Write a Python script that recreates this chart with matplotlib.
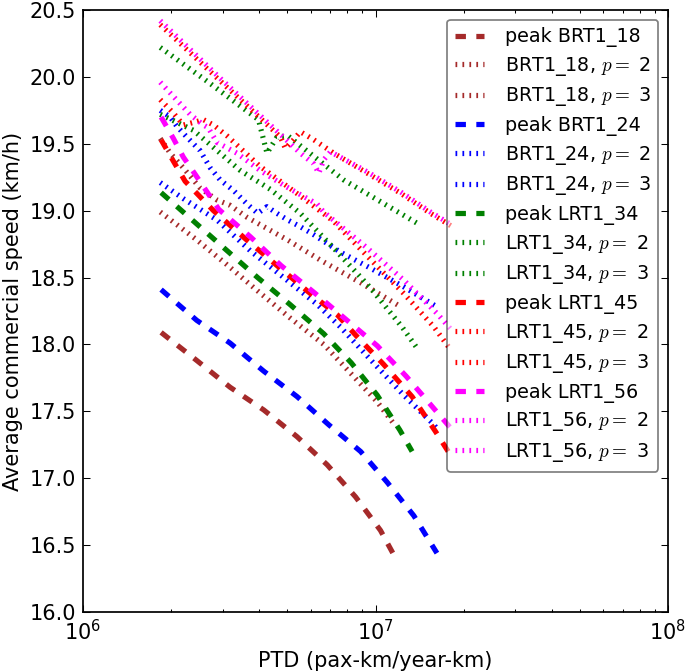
import matplotlib
matplotlib.use("Agg")
import matplotlib.pyplot as plt

plt.rcParams['font.family'] = ['DejaVu Sans']
plt.rcParams['mathtext.fontset'] = 'cm'
plt.rcParams['lines.scale_dashes'] = False

# ---- data (PTD in pax-km/year-km, speed in km/h) ----
peak_brt18_x = [1.849e6, 2.449e6, 3.184e6, 4.150e6, 5.395e6, 6.839e6, 8.551e6, 10.40e6, 11.53e6]
peak_brt18_y = [18.09, 17.88, 17.68, 17.51, 17.31, 17.10, 16.86, 16.61, 16.43]

brt18_p2_x = [1.837e6, 1.986e6, 2.203e6, 2.512e6, 2.871e6, 3.184e6, 3.639e6, 5.012e6, 6.486e6, 8.913e6, 12.02e6]
brt18_p2_y = [19.54, 19.43, 19.32, 19.17, 19.08, 19.04, 18.95, 18.78, 18.63, 18.46, 18.29]

brt18_p3_x = [1.837e6, 2.421e6, 3.090e6, 3.954e6, 5.093e6, 6.653e6, 8.260e6, 10.14e6, 11.43e6]
brt18_p3_y = [18.99, 18.79, 18.60, 18.40, 18.20, 18.00, 17.78, 17.57, 17.42]

peak_brt24_x = [1.849e6, 2.449e6, 3.184e6, 4.150e6, 5.395e6, 6.918e6, 8.892e6, 10.96e6, 13.52e6, 16.22e6]
peak_brt24_y = [18.41, 18.18, 18.01, 17.80, 17.61, 17.40, 17.20, 16.97, 16.72, 16.44]

brt24_p2_x = [1.837e6, 1.986e6, 2.094e6, 2.265e6, 2.512e6, 2.723e6, 2.944e6, 3.273e6, 3.639e6,
              3.954e6, 4.256e6, 4.603e6, 5.012e6, 5.534e6, 6.152e6, 7.586e6, 9.616e6, 12.50e6, 16.26e6]
brt24_p2_y = [19.75, 19.70, 19.63, 19.55, 19.45, 19.32, 19.23, 19.15, 19.05,
              18.98, 19.03, 18.98, 18.93, 18.88, 18.82, 18.69, 18.57, 18.43, 18.28]

brt24_p3_x = [1.837e6, 2.203e6, 2.871e6, 3.733e6, 4.853e6, 6.310e6, 7.586e6, 9.863e6, 12.50e6, 15.85e6, 16.22e6]
brt24_p3_y = [19.21, 19.09, 18.93, 18.70, 18.50, 18.30, 18.13, 17.86, 17.62, 17.40, 17.37]

peak_lrt34_x = [1.849e6, 2.421e6, 3.090e6, 3.954e6, 5.093e6, 6.653e6, 8.260e6, 10.14e6, 12.11e6, 13.34e6]
peak_lrt34_y = [19.135, 18.91, 18.706, 18.50, 18.30, 18.08, 17.863, 17.62, 17.36, 17.20]

lrt34_p2_x = [1.837e6, 2.723e6, 3.981e6, 4.256e6, 4.603e6, 5.012e6, 7.780e6, 13.90e6]
lrt34_p2_y = [20.22, 19.95, 19.68, 19.43, 19.55, 19.56, 19.23, 18.905]

lrt34_p3_x = [1.837e6, 2.388e6, 3.451e6, 4.365e6, 5.534e6, 7.194e6, 9.550e6, 12.33e6, 13.90e6]
lrt34_p3_y = [19.72, 19.60, 19.30, 19.16, 18.98, 18.72, 18.43, 18.13, 17.97]

peak_lrt45_x = [1.849e6, 2.037e6, 2.234e6, 2.793e6, 3.589e6, 4.603e6, 5.916e6, 7.413e6, 8.551e6,
                10.67e6, 13.34e6, 16.03e6, 18.32e6]
peak_lrt45_y = [19.53, 19.37, 19.22, 19.00, 18.79, 18.59, 18.39, 18.22, 18.07,
                17.85, 17.61, 17.35, 17.15]

lrt45_p2_x = [1.837e6, 2.944e6, 3.733e6, 4.732e6, 4.920e6, 5.248e6, 5.534e6, 6.152e6, 7.194e6,
              9.376e6, 12.19e6, 15.42e6, 18.32e6]
lrt45_p2_y = [20.39, 19.97, 19.76, 19.55, 19.465, 19.53, 19.59, 19.53, 19.43,
              19.28, 19.13, 18.98, 18.88]

lrt45_p3_x = [1.837e6, 2.037e6, 2.203e6, 2.388e6, 2.582e6, 2.793e6, 3.105e6, 4.036e6, 5.534e6,
              7.194e6, 9.376e6, 12.50e6, 15.85e6, 18.07e6]
lrt45_p3_y = [19.83, 19.73, 19.64, 19.66, 19.68, 19.64, 19.56, 19.33, 19.11,
              18.92, 18.66, 18.38, 18.13, 17.96]

peak_lrt56_x = [1.849e6, 2.037e6, 2.203e6, 2.421e6, 2.911e6, 3.733e6, 4.753e6, 6.152e6, 7.998e6,
                10.14e6, 12.76e6, 15.85e6, 18.32e6]
peak_lrt56_y = [19.70, 19.54, 19.40, 19.27, 19.01, 18.805, 18.59, 18.39, 18.18,
                17.99, 17.76, 17.52, 17.36]

lrt56_p2_x = [1.837e6, 2.944e6, 3.733e6, 4.732e6, 5.534e6, 6.152e6, 6.397e6, 6.653e6, 7.015e6,
              9.376e6, 12.19e6, 15.42e6, 18.32e6]
lrt56_p2_y = [20.42, 19.99, 19.78, 19.57, 19.43, 19.35, 19.28, 19.38, 19.44,
              19.29, 19.14, 18.99, 18.89]

lrt56_p3_x = [1.837e6, 1.986e6, 2.323e6, 2.582e6, 2.679e6, 2.871e6, 3.357e6, 4.036e6, 4.853e6,
              6.310e6, 6.653e6, 9.376e6, 12.50e6, 16.26e6, 18.32e6]
lrt56_p3_y = [19.96, 19.88, 19.72, 19.64, 19.62, 19.51, 19.43, 19.30, 19.19,
              19.05, 18.99, 18.72, 18.48, 18.23, 18.10]

systems = ["BRT1_18", "BRT1_24", "LRT1_34", "LRT1_45", "LRT1_56"]
colors = ["brown", "blue", "green", "red", "magenta"]
series = [
    (peak_brt18_x, peak_brt18_y, brt18_p2_x, brt18_p2_y, brt18_p3_x, brt18_p3_y),
    (peak_brt24_x, peak_brt24_y, brt24_p2_x, brt24_p2_y, brt24_p3_x, brt24_p3_y),
    (peak_lrt34_x, peak_lrt34_y, lrt34_p2_x, lrt34_p2_y, lrt34_p3_x, lrt34_p3_y),
    (peak_lrt45_x, peak_lrt45_y, lrt45_p2_x, lrt45_p2_y, lrt45_p3_x, lrt45_p3_y),
    (peak_lrt56_x, peak_lrt56_y, lrt56_p2_x, lrt56_p2_y, lrt56_p3_x, lrt56_p3_y),
]
p_values = [2, 3]

DPI = 125
fig = plt.figure(figsize=(685 / DPI, 672 / DPI), dpi=DPI)
ax = fig.add_axes([83 / 685, 60 / 672, 585 / 685, 602 / 672])

dash = (0, (6, 6))
dot = (0, (1, 3))
for name, col, (px, py, x2, y2, x3, y3) in zip(systems, colors, series):
    ax.plot(px, py, color=col, lw=3, linestyle=dash, label="peak " + name)
    ax.plot(x2, y2, color=col, lw=3, linestyle=dot, label=name + r", $p=$ %d" % p_values[0])
    ax.plot(x3, y3, color=col, lw=3, linestyle=dot, label=name + r", $p=$ %d" % p_values[1])

ax.set_xscale("log")
ax.set_xlim(1e6, 1e8)
ax.set_ylim(16.0, 20.5)
ax.set_yticks([16.0, 16.5, 17.0, 17.5, 18.0, 18.5, 19.0, 19.5, 20.0, 20.5])
ax.set_yticklabels(["%.1f" % v for v in ax.get_yticks()])

ax.tick_params(which="both", direction="in", top=True, right=True, labelsize=12)
ax.tick_params(which="major", length=4, width=0.6, pad=4)
ax.tick_params(which="minor", length=2, width=0.6)
for s in ax.spines.values():
    s.set_linewidth(1.0)

ax.set_xlabel("PTD (pax-km/year-km)", fontsize=12)
ax.set_ylabel("Average commercial speed (km/h)", fontsize=12)

leg = ax.legend(loc="upper right", fontsize=11, framealpha=0.5, fancybox=True,
                handlelength=1.5, handletextpad=1.1, labelspacing=0.4,
                borderpad=0.4, borderaxespad=0.5, edgecolor="black")
leg.get_frame().set_linewidth(1.0)

fig.savefig("out.png", dpi=DPI)
